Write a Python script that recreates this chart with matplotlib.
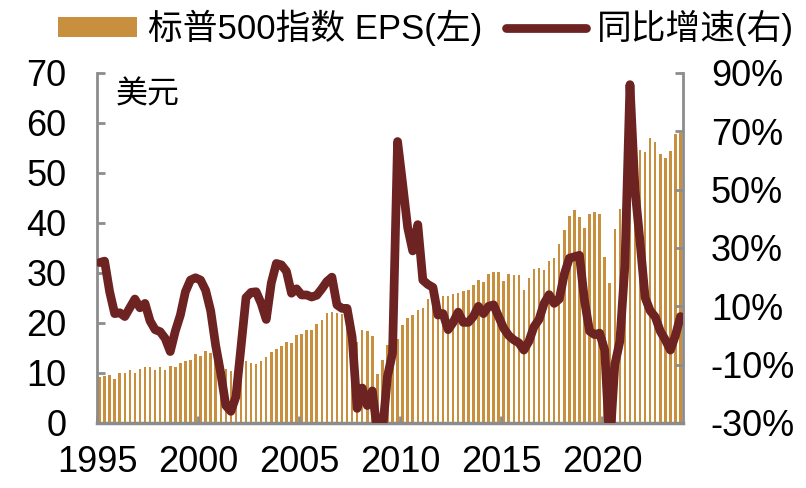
import matplotlib
matplotlib.use('Agg')
import matplotlib.pyplot as plt
from matplotlib.patches import Patch
from matplotlib.lines import Line2D
from matplotlib.font_manager import FontProperties

# Quarterly S&P 500 EPS (USD), 1995Q1 - 2023Q4
eps = [
    9.3, 9.5, 9.6, 8.9,      # 1995
    10.1, 10.1, 10.7, 10.1,  # 1996
    10.9, 11.3, 11.3, 10.6,  # 1997
    11.3, 10.6, 11.4, 11.3,  # 1998
    12.0, 12.4, 12.6, 13.8,  # 1999
    13.4, 14.4, 14.1, 13.5,  # 2000
    12.0, 10.9, 10.5, 10.5,  # 2001
    11.2, 12.4, 12.1, 11.8,  # 2002
    12.4, 13.3, 14.3, 14.8,  # 2003
    15.4, 16.3, 16.1, 17.6,  # 2004
    17.8, 18.7, 18.6, 19.9,  # 2005
    20.6, 22.1, 22.3, 22.1,  # 2006
    21.9, 21.0, 21.5, 16.3,  # 2007
    18.6, 18.5, 17.4, 9.8,   # 2008
    12.6, 15.6, 16.3, 16.8,  # 2009
    19.6, 21.1, 21.6, 22.7,  # 2010
    23.1, 24.9, 25.2, 25.3,  # 2011
    25.4, 25.4, 25.9, 26.1,  # 2012
    26.5, 26.7, 27.6, 28.7,  # 2013
    28.3, 29.8, 30.3, 30.3,  # 2014
    28.5, 29.8, 29.7, 29.7,  # 2015
    26.7, 29.1, 30.9, 31.1,  # 2016
    30.6, 32.5, 33.1, 35.9,  # 2017
    38.7, 41.4, 42.6, 41.3,  # 2018
    39.1, 41.9, 42.3, 41.8,  # 2019
    33.3, 28.0, 38.9, 42.9,  # 2020
    48.5, 52.5, 53.5, 54.7,  # 2021
    54.3, 57.1, 56.2, 53.9,  # 2022
    53.1, 54.4, 57.9, 58.0,  # 2023
]

# Year-over-year growth (%), same quarters
yoy = [
    25.0, 25.5, 15.0, 7.5,
    7.8, 6.5, 9.5, 12.5,
    9.5, 11.0, 5.0, 2.0,
    1.3, -1.0, -5.5, 1.5,
    7.0, 15.0, 19.0, 19.8,
    19.0, 15.5, 8.5, -3.5,
    -13.0, -24.0, -26.0, -21.0,
    -4.0, 13.0, 14.8, 15.0,
    11.0, 5.5, 18.0, 24.7,
    24.2, 22.0, 14.5, 16.0,
    13.9, 13.9, 13.2, 13.8,
    16.0, 18.5, 20.0, 10.5,
    9.3, 9.3, -0.5, -25.0,
    -18.0, -24.0, -19.0, -33.0,
    -33.0, -14.0, -6.0, 66.5,
    52.0, 37.0, 29.0, 38.0,
    19.0, 17.5, 16.5, 7.0,
    7.5, 2.0, 4.5, 8.0,
    4.5, 4.5, 6.5, 10.0,
    7.5, 10.0, 10.5, 6.5,
    2.5, 0.0, -1.5, -2.5,
    -5.0, -2.0, 3.0, 5.5,
    11.0, 14.0, 11.0, 12.5,
    21.0, 26.5, 27.0, 27.5,
    12.0, 1.5, 0.3, 0.8,
    -5.0, -38.0, -10.0, -2.0,
    24.0, 86.0, 50.0, 32.0,
    13.0, 8.5, 6.4, 1.5,
    -1.5, -5.0, 0.0, 6.5,
]

year_labels = ['1995', '2000', '2005', '2010', '2015', '2020']
left_ticks = [0, 10, 20, 30, 40, 50, 60, 70]
right_ticks = [-30, -10, 10, 30, 50, 70, 90]

bar_color = '#C8903E'
line_color = '#6E2323'
axis_color = '#8C8C8C'

latin = ['Liberation Sans', 'Noto Sans CJK SC']
cjk = ['Noto Sans CJK SC', 'DejaVu Sans']
mixed = ['Liberation Sans', 'Noto Sans CJK SC', 'DejaVu Sans']

fig = plt.figure(figsize=(8.06, 4.88), dpi=100)
ax = fig.add_axes([97 / 806, 1 - 423 / 488, 586 / 806, 350 / 488])
ax2 = ax.twinx()

n = len(eps)
x = list(range(n))
ax.bar(x, eps, width=0.5, color=bar_color, linewidth=0)
ax.set_xlim(-0.5, n - 0.5)
ax.set_ylim(0, 70)

ax2.plot(x, yoy, color=line_color, lw=6.3, solid_joinstyle='round',
         solid_capstyle='round', zorder=3)
ax2.set_ylim(-30, 90)
ax2.set_xlim(-0.5, n - 0.5)

tick_pos = [-0.5 + 20 * k for k in range(len(year_labels))]
ax.set_xticks(tick_pos)
ax.set_xticklabels(year_labels, fontfamily=latin, fontsize=26)
ax.set_yticks(left_ticks)
ax.set_yticklabels([str(v) for v in left_ticks], fontfamily=latin, fontsize=26)
ax2.set_yticks(right_ticks)
ax2.set_yticklabels([f'{v}%' for v in right_ticks], fontfamily=latin, fontsize=26)

ax.tick_params(axis='x', direction='in', length=5, width=2, color=axis_color, pad=16)
ax.tick_params(axis='y', direction='in', length=6, width=2, color=axis_color, pad=22)
ax2.tick_params(axis='y', direction='in', length=6, width=2, color=axis_color, pad=20)

for a in (ax, ax2):
    a.spines['top'].set_visible(False)
ax.spines['right'].set_visible(False)
ax.spines['left'].set_color(axis_color)
ax.spines['left'].set_linewidth(2)
ax.spines['bottom'].set_color(axis_color)
ax.spines['bottom'].set_linewidth(2.5)
ax2.spines['left'].set_visible(False)
ax2.spines['bottom'].set_visible(False)
ax2.spines['right'].set_color(axis_color)
ax2.spines['right'].set_linewidth(2)

ax.text(0.032, 0.985, '美元', transform=ax.transAxes, ha='left', va='top',
        fontfamily=cjk, fontsize=23)

handles = [Patch(facecolor=bar_color, edgecolor='none', label='标普500指数 EPS(左)'),
           Line2D([0], [0], color=line_color, lw=6.3, solid_capstyle='round',
                  label='同比增速(右)')]
fig.legend(handles=handles, loc='center', bbox_to_anchor=(0.528, 0.943), ncol=2,
           frameon=False, prop=FontProperties(family=mixed, size=25),
           handlelength=2.3, handleheight=0.5, handletextpad=0.3,
           columnspacing=0.7)

fig.savefig('out.png', dpi=100)
